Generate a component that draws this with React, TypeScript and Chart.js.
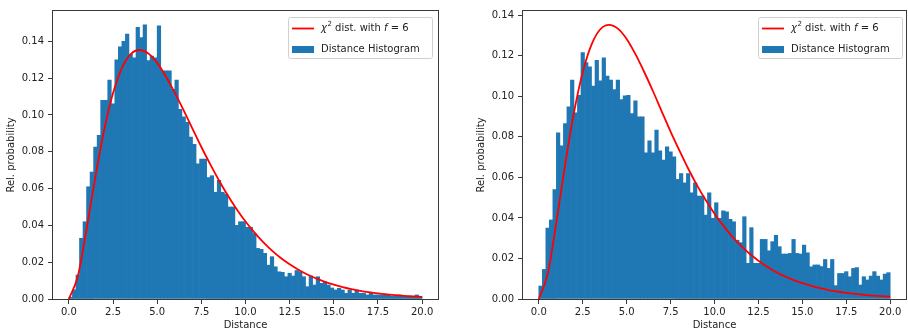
import React, { useEffect, useRef } from "react";
import { Chart, registerables } from "chart.js";

Chart.register(...registerables);

// ---------- data ----------
const BIN_WIDTH = 0.2;
const xTickValues = [0, 2.5, 5, 7.5, 10, 12.5, 15, 17.5, 20];
const yTickValues = [0, 0.02, 0.04, 0.06, 0.08, 0.1, 0.12, 0.14];
const xLabel = "Distance";
const yLabel = "Rel. probability";
const histLabel = "Distance Histogram";
const curveLabelMain = "\u03c7";
const curveLabelSup = "2";
const curveLabelMid = " dist. with ";
const curveLabelVar = "f";
const curveLabelEnd = " = 6";

// chi-squared curve (same in both panels)
const curveX = [
  0, 0.5, 1, 1.5, 2, 2.5, 3, 3.5, 4, 4.5, 5, 5.5, 6, 6.5, 7, 7.5, 8, 8.5, 9, 9.5,
  10, 10.5, 11, 11.5, 12, 12.5, 13, 13.5, 14, 14.5, 15, 15.5, 16, 16.5, 17, 17.5,
  18, 18.5, 19, 19.5, 20,
];
const curveY = [
  0, 0.0122, 0.0379, 0.0664, 0.092, 0.1119, 0.1255, 0.1331, 0.1353, 0.1334,
  0.1283, 0.1208, 0.112, 0.1025, 0.0925, 0.0826, 0.0733, 0.0644, 0.0562, 0.0488,
  0.0421, 0.0362, 0.0309, 0.0263, 0.0223, 0.0189, 0.0159, 0.0133, 0.0112, 0.0093,
  0.0078, 0.0065, 0.0054, 0.0044, 0.0037, 0.003, 0.0025, 0.0021, 0.0017, 0.0014,
  0.0011,
];

// left panel histogram (100 bins of width 0.2 from 0 to 20)
const leftHist = [
  0.001, 0.005, 0.013, 0.033, 0.042, 0.061, 0.069, 0.0826, 0.089, 0.108,
  0.108, 0.119, 0.106, 0.13, 0.137, 0.14, 0.144, 0.133, 0.131, 0.1476,
  0.142, 0.149, 0.1295, 0.132, 0.131, 0.1485, 0.124, 0.124, 0.124, 0.114,
  0.119, 0.103, 0.099, 0.096, 0.088, 0.084, 0.0735, 0.076, 0.076, 0.066,
  0.067, 0.058, 0.0645, 0.058, 0.057, 0.05, 0.05, 0.04, 0.042, 0.042,
  0.039, 0.039, 0.0356, 0.0275, 0.027, 0.0248, 0.0184, 0.023, 0.0175, 0.0148,
  0.0145, 0.0121, 0.014, 0.0125, 0.0155, 0.0148, 0.0121, 0.0067, 0.0125, 0.0076,
  0.0121, 0.0085, 0.0094, 0.0076, 0.006, 0.0049, 0.0058, 0.0049, 0.0031, 0.0049,
  0.0031, 0.0049, 0.0031, 0.0031, 0.0022, 0.0031, 0.0022, 0.0022, 0.0022, 0.0027,
  0.0022, 0.0016, 0.0016, 0.0022, 0.0016, 0.0016, 0.0013, 0.0013, 0.0022, 0.0013,
];

// right panel histogram
const rightHist = [
  0.0064, 0.0146, 0.035, 0.039, 0.054, 0.082, 0.0756, 0.0866, 0.0948, 0.108,
  0.0918, 0.1005, 0.1216, 0.1166, 0.1145, 0.105, 0.1178, 0.1076, 0.119, 0.11,
  0.108, 0.1033, 0.108, 0.0984, 0.1002, 0.1005, 0.0915, 0.0978, 0.0899, 0.0899,
  0.0721, 0.078, 0.0721, 0.0833, 0.0731, 0.0685, 0.0751, 0.0726, 0.0701, 0.059,
  0.0619, 0.0573, 0.0619, 0.0524, 0.0573, 0.0508, 0.0508, 0.0414, 0.0524, 0.0398,
  0.0475, 0.0398, 0.0435, 0.043, 0.0393, 0.0381, 0.029, 0.0278, 0.0406, 0.0176,
  0.0352, 0.0176, 0.0176, 0.0294, 0.0294, 0.0238, 0.0283, 0.0314, 0.0258, 0.0222,
  0.0222, 0.0225, 0.0294, 0.0225, 0.0222, 0.0266, 0.0228, 0.0159, 0.0168, 0.0168,
  0.016, 0.0195, 0.0151, 0.0195, 0.0066, 0.0126, 0.0126, 0.0135, 0.011, 0.0151,
  0.0155, 0.0069, 0.011, 0.0094, 0.0113, 0.0135, 0.0113, 0.0094, 0.0123, 0.013,
];

const X_MIN = -0.9;
const X_MAX = 20.9;
const LEFT_Y_MAX = 0.1565;
const RIGHT_Y_MAX = 0.1421;

// ---------- styles ----------
const FONT = "DejaVu Sans";
const TEXT_COLOR = "#222222";
const SPINE_COLOR = "#3a3a3a";
const BAR_COLOR = "#1f77b4";
const LINE_COLOR = "#ff0000";

Chart.defaults.font.family = FONT;
Chart.defaults.font.size = 10;
Chart.defaults.color = TEXT_COLOR;

const framePlugin = {
  id: "mplFrame",
  afterDraw(chart: any) {
    const { ctx, chartArea } = chart;
    ctx.save();
    ctx.strokeStyle = SPINE_COLOR;
    ctx.lineWidth = 1;
    const l = Math.round(chartArea.left) - 0.5;
    const t = Math.round(chartArea.top) - 0.5;
    const r = Math.round(chartArea.right) + 0.5;
    const b = Math.round(chartArea.bottom) + 0.5;
    ctx.strokeRect(l, t, r - l, b - t);
    ctx.restore();
  },
};

const legendPlugin = {
  id: "mplLegend",
  afterDraw(chart: any) {
    const ctx = chart.ctx;
    const bx = 288.5, by = 17.5, bw = 144, bh = 41, rad = 2;
    ctx.save();
    ctx.beginPath();
    ctx.moveTo(bx + rad, by);
    ctx.lineTo(bx + bw - rad, by);
    ctx.arcTo(bx + bw, by, bx + bw, by + rad, rad);
    ctx.lineTo(bx + bw, by + bh - rad);
    ctx.arcTo(bx + bw, by + bh, bx + bw - rad, by + bh, rad);
    ctx.lineTo(bx + rad, by + bh);
    ctx.arcTo(bx, by + bh, bx, by + bh - rad, rad);
    ctx.lineTo(bx, by + rad);
    ctx.arcTo(bx, by, bx + rad, by, rad);
    ctx.closePath();
    ctx.fillStyle = "rgba(255,255,255,0.8)";
    ctx.fill();
    ctx.strokeStyle = "#d0d0d0";
    ctx.lineWidth = 1;
    ctx.stroke();

    // line entry
    const y1 = 28.5;
    ctx.strokeStyle = LINE_COLOR;
    ctx.lineWidth = 1.8;
    ctx.beginPath();
    ctx.moveTo(292, y1);
    ctx.lineTo(314, y1);
    ctx.stroke();

    ctx.fillStyle = TEXT_COLOR;
    ctx.textBaseline = "middle";
    ctx.textAlign = "left";
    let x = 321;
    ctx.font = `italic 10px "${FONT}"`;
    ctx.fillText(curveLabelMain, x, y1);
    x += ctx.measureText(curveLabelMain).width + 0.5;
    ctx.font = `7px "${FONT}"`;
    ctx.fillText(curveLabelSup, x, y1 - 4);
    x += ctx.measureText(curveLabelSup).width;
    ctx.font = `10px "${FONT}"`;
    ctx.fillText(curveLabelMid, x, y1);
    x += ctx.measureText(curveLabelMid).width;
    ctx.font = `italic 10px "${FONT}"`;
    ctx.fillText(curveLabelVar, x, y1);
    x += ctx.measureText(curveLabelVar).width;
    ctx.font = `10px "${FONT}"`;
    ctx.fillText(curveLabelEnd, x, y1);

    // patch entry
    const y2 = 49.5;
    ctx.fillStyle = BAR_COLOR;
    ctx.fillRect(292, y2 - 3.5, 22, 7);
    ctx.fillStyle = TEXT_COLOR;
    ctx.font = `10px "${FONT}"`;
    ctx.fillText(histLabel, 321, y2);
    ctx.restore();
  },
};

function makeConfig(hist: number[], yMax: number, padRight: number): any {
  const barData = hist.map((v, i) => ({ x: (i + 0.5) * BIN_WIDTH, y: v }));
  const lineData = curveX.map((x, i) => ({ x, y: curveY[i] }));
  return {
    type: "bar",
    data: {
      datasets: [
        {
          type: "line",
          label: "chi2",
          data: lineData,
          borderColor: LINE_COLOR,
          borderWidth: 1.8,
          pointRadius: 0,
          cubicInterpolationMode: "monotone",
          fill: false,
          order: 0,
        },
        {
          type: "bar",
          label: histLabel,
          data: barData,
          backgroundColor: BAR_COLOR,
          borderWidth: 0,
          barPercentage: 1,
          categoryPercentage: 1,
          order: 1,
        },
      ],
    },
    options: {
      animation: false,
      responsive: false,
      maintainAspectRatio: false,
      devicePixelRatio: 1,
      layout: { padding: { top: 11, right: padRight, left: 0, bottom: 0 } },
      plugins: { legend: { display: false }, tooltip: { enabled: false } },
      scales: {
        x: {
          type: "linear",
          min: X_MIN,
          max: X_MAX,
          offset: false,
          grid: {
            offset: false,
            drawOnChartArea: false,
            drawTicks: true,
            tickLength: 5,
            tickColor: SPINE_COLOR,
          },
          border: { display: false },
          ticks: {
            padding: 2,
            maxRotation: 0,
            autoSkip: false,
            callback: (v: number) => Number(v).toFixed(1),
          },
          title: { display: true, text: xLabel, padding: { top: 0, bottom: 2 } },
          afterBuildTicks: (axis: any) => {
            axis.ticks = xTickValues.map((v) => ({ value: v }));
          },
          afterFit: (axis: any) => {
            axis.height = 34;
          },
        },
        y: {
          type: "linear",
          min: 0,
          max: yMax,
          grid: {
            drawOnChartArea: false,
            drawTicks: true,
            tickLength: 5,
            tickColor: SPINE_COLOR,
          },
          border: { display: false },
          ticks: {
            padding: 4,
            autoSkip: false,
            callback: (v: number) => Number(v).toFixed(2),
          },
          title: { display: true, text: yLabel, padding: { top: 5, bottom: 0 } },
          afterBuildTicks: (axis: any) => {
            axis.ticks = yTickValues.map((v) => ({ value: v }));
          },
          afterFit: (axis: any) => {
            axis.width = 53;
          },
        },
      },
    },
    plugins: [framePlugin, legendPlugin],
  };
}

function HistPanel(props: {
  hist: number[];
  yMax: number;
  left: number;
  width: number;
  padRight: number;
}) {
  const ref = useRef<HTMLCanvasElement | null>(null);
  useEffect(() => {
    if (!ref.current) return;
    const chart = new Chart(ref.current, makeConfig(props.hist, props.yMax, props.padRight));
    return () => chart.destroy();
  }, []);
  return (
    <canvas
      ref={ref}
      width={props.width}
      height={333}
      style={{
        position: "absolute",
        left: props.left,
        top: 0,
        width: props.width,
        height: 333,
      }}
    />
  );
}

export default function App() {
  return (
    <div
      style={{
        position: "absolute",
        left: 0,
        top: 0,
        width: 908,
        height: 333,
        background: "#ffffff",
        overflow: "hidden",
      }}
    >
      <HistPanel hist={leftHist} yMax={LEFT_Y_MAX} left={0} width={454} padRight={16} />
      <HistPanel hist={rightHist} yMax={RIGHT_Y_MAX} left={470} width={438} padRight={2} />
    </div>
  );
}
